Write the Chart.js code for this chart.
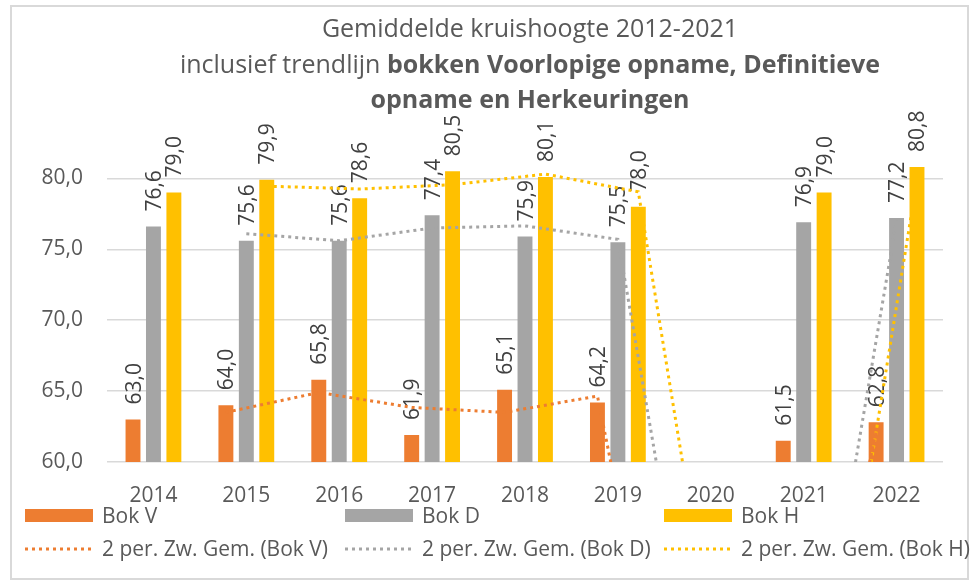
<!DOCTYPE html>
<html>
<head>
<meta charset="utf-8">
<script src="https://cdn.jsdelivr.net/npm/chart.js@4.4.1/dist/chart.umd.min.js"></script>
<style>
  body { margin: 0; background: #fff; font-family: "Open Sans", sans-serif; color: #595959; }
  #wrap { position: relative; width: 972px; height: 582px; overflow: hidden; }
  #frame { position: absolute; left: 10px; top: 5px; width: 955px; height: 571px; border: 2px solid #d9d9d9; }
  canvas { position: absolute; left: 0; top: 0; }
  #title { position: absolute; top: 10px; left: 130px; width: 800px; text-align: center; font-size: 25px; line-height: 35.5px; }
  #title b { font-weight: 700; }
  .lg { position: absolute; font-size: 21px; line-height: 26px; white-space: nowrap; }
  .sw { position: absolute; }
</style>
</head>
<body>
<div id="wrap">
  <div id="frame"></div>
  <canvas id="bars" width="972" height="582"></canvas>
  <canvas id="trends" width="972" height="582"></canvas>
  <div id="title">Gemiddelde kruishoogte 2012-2021<br>inclusief trendlijn <b>bokken Voorlopige opname, Definitieve<br>opname en Herkeuringen</b></div>
  <div id="legend"></div>
</div>
<script>
const years = ['2014', '2015', '2016', '2017', '2018', '2019', '2020', '2021', '2022'];
const bokV = [63.0, 64.0, 65.8, 61.9, 65.1, 64.2, null, 61.5, 62.8];
const bokD = [76.6, 75.6, 75.6, 77.4, 75.9, 75.5, null, 76.9, 77.2];
const bokH = [79.0, 79.9, 78.6, 80.5, 80.1, 78.0, null, 79.0, 80.8];

// 2 per. zwevend gemiddelde
const trendV = [null, 63.5, 64.9, 63.85, 63.5, 64.65, 32.1, 30.75, 62.15];
const trendD = [null, 76.1, 75.6, 76.5, 76.65, 75.7, 37.75, 38.45, 77.05];
const trendH = [null, 79.45, 79.25, 79.55, 80.3, 79.05, 39.0, 39.5, 79.9];

const yTicks = [60, 65, 70, 75, 80];
const yMin = 60, yMax = 82;
const barNames = ['Bok V', 'Bok D', 'Bok H'];
const trendNames = ['2 per. Zw. Gem. (Bok V)', '2 per. Zw. Gem. (Bok D)', '2 per. Zw. Gem. (Bok H)'];
const colors = ['#ED7D31', '#A5A5A5', '#FFC000'];

const catPct = 0.66;
const barPct = 0.73;
// plotvlak (beide grafieken gebruiken hetzelfde)
const area = { left: 107, right: 29, top: 150, bottom: 120 };
const comma = v => v.toFixed(1).replace('.', ',');

// trendlijn-punten liggen op het midden van de eigen staaf
function trendPoints(vals, k) {
    return vals.map((v, i) => ({ x: i + (k - 1) * catPct / 3, y: v }));
}

const barLabels = {
    id: 'barLabels',
    afterDatasetsDraw(chart) {
        const ctx = chart.ctx;
        ctx.save();
        ctx.font = '21px "Open Sans"';
        ctx.fillStyle = '#404040';
        ctx.textAlign = 'left';
        ctx.textBaseline = 'alphabetic';
        chart.data.datasets.forEach((ds, di) => {
            const meta = chart.getDatasetMeta(di);
            meta.data.forEach((bar, i) => {
                const v = ds.data[i];
                if (v == null) return;
                ctx.save();
                ctx.translate(bar.x, bar.y - 15);
                ctx.rotate(-Math.PI / 2);
                ctx.fillText(comma(v), 0, 7.5);
                ctx.restore();
            });
        });
        ctx.restore();
    }
};

new Chart(document.getElementById('bars'), {
    type: 'bar',
    data: {
        labels: years,
        datasets: [bokV, bokD, bokH].map((d, k) => ({
            label: barNames[k],
            data: d,
            backgroundColor: colors[k],
            categoryPercentage: catPct,
            barPercentage: barPct
        }))
    },
    plugins: [barLabels],
    options: {
        responsive: false,
        animation: false,
        layout: { padding: { top: area.top, right: area.right, left: 0, bottom: 0 } },
        plugins: { legend: { display: false }, tooltip: { enabled: false } },
        scales: {
            x: {
                grid: { display: false },
                border: { display: false },
                ticks: { color: '#595959', font: { family: 'Open Sans', size: 21 }, padding: 13 },
                afterFit: s => { s.height = area.bottom; }
            },
            y: {
                min: yMin,
                max: yMax,
                afterBuildTicks: axis => { axis.ticks = yTicks.map(v => ({ value: v })); },
                grid: { color: '#d9d9d9', lineWidth: 1.5, drawTicks: false },
                border: { display: false },
                ticks: { color: '#595959', font: { family: 'Open Sans', size: 21 }, padding: 24, callback: v => comma(v) },
                afterFit: s => { s.width = area.left; }
            }
        }
    }
});

// trendlijnen in een tweede grafiek met hetzelfde plotvlak, bovenop de staven
new Chart(document.getElementById('trends'), {
    type: 'line',
    data: {
        datasets: [trendV, trendD, trendH].map((d, k) => ({
            label: trendNames[k],
            data: trendPoints(d, k),
            borderColor: colors[k],
            borderWidth: 3,
            borderDash: [3, 4],
            pointRadius: 0,
            fill: false,
            tension: 0
        }))
    },
    options: {
        responsive: false,
        animation: false,
        layout: { padding: area },
        plugins: { legend: { display: false }, tooltip: { enabled: false } },
        scales: {
            x: { type: 'linear', display: false, min: -0.5, max: years.length - 0.5 },
            y: { display: false, min: yMin, max: yMax }
        }
    }
});

// legenda
const legendCols = [25, 345, 664];
const legend = document.getElementById('legend');
colors.forEach((col, k) => {
    const x = legendCols[k];
    legend.insertAdjacentHTML('beforeend',
        `<div class="sw" style="left:${x}px;top:509px;width:68px;height:13px;background:${col}"></div>` +
        `<div class="lg" style="left:${x + 77}px;top:502px">${barNames[k]}</div>` +
        `<svg class="sw" style="left:${x}px;top:546px" width="66" height="6"><line x1="0" y1="3" x2="66" y2="3" stroke="${col}" stroke-width="3" stroke-dasharray="3 4"/></svg>` +
        `<div class="lg" style="left:${x + 77}px;top:535px">${trendNames[k]}</div>`);
});
</script>
</body>
</html>
